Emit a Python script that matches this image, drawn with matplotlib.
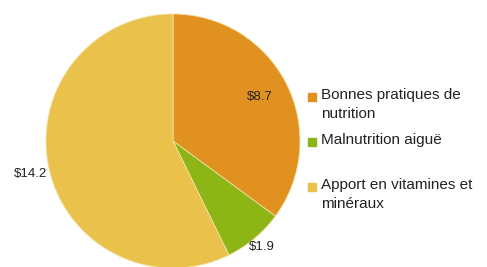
import matplotlib.pyplot as plt
import numpy as np
from matplotlib.patches import Rectangle

categories = ["Bonnes pratiques de\nnutrition", "Malnutrition aiguë",
              "Apport en vitamines et\nminéraux"]
values = [8.7, 1.9, 14.2]
value_labels = ["$8.7", "$1.9", "$14.2"]
colors = ["#E0911F", "#8DB516", "#E9C14B"]
label_radius = [0.77, 1.09, 1.15]

plt.rcParams['font.family'] = ['Liberation Sans', 'DejaVu Sans']

fig = plt.figure(figsize=(4.87, 2.67), dpi=100)
ax = fig.add_axes([46 / 487, -1 / 267, 254 / 487, 254 / 267])

wedges, _ = ax.pie(values, colors=colors, startangle=90, counterclock=False,
                   wedgeprops=dict(linewidth=0.6, edgecolor="#F3DFA0"))
ax.set_xlim(-1, 1)
ax.set_ylim(-1, 1)
ax.set_aspect('equal')
ax.axis('off')

# labels des valeurs
for w, lab, r in zip(wedges, value_labels, label_radius):
    ang = np.deg2rad((w.theta1 + w.theta2) / 2)
    ax.text(r * np.cos(ang), r * np.sin(ang), lab, ha='center', va='center',
            fontsize=9.5, color='#222222', clip_on=False)

# legende
y0 = 97
step = 45
for i, (lab, col) in enumerate(zip(categories, colors)):
    yc = y0 + i * step
    fig.patches.append(Rectangle((308 / 487, 1 - (yc + 4) / 267), 8 / 487, 8 / 267,
                                 transform=fig.transFigure, color=col))
    fig.text(321 / 487, 1 - (yc - 9) / 267, lab, ha='left', va='top',
             fontsize=11, color='#222222', linespacing=1.45)

fig.savefig('out.png', dpi=100)
